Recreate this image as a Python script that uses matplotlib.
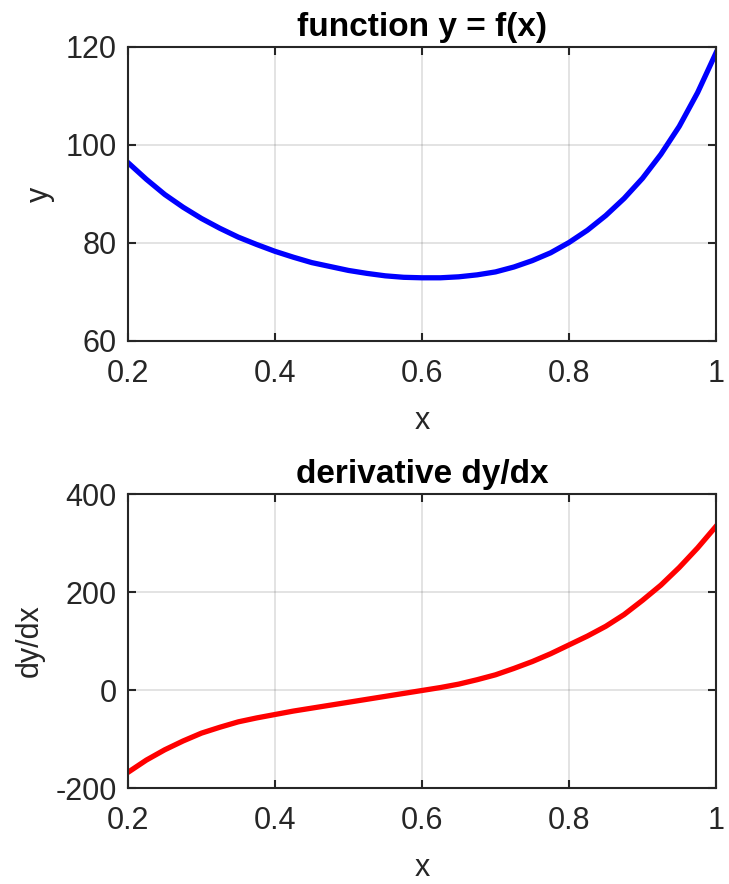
import matplotlib
matplotlib.use("Agg")
import matplotlib.pyplot as plt

plt.rcParams['font.family'] = ['Liberation Sans', 'DejaVu Sans']
plt.rcParams['axes.unicode_minus'] = False

# values
x = [0.2, 0.225, 0.25, 0.275, 0.3, 0.325, 0.35, 0.375, 0.4, 0.425, 0.45, 0.475,
     0.5, 0.525, 0.55, 0.575, 0.6, 0.625, 0.65, 0.675, 0.7, 0.725, 0.75, 0.775,
     0.8, 0.825, 0.85, 0.875, 0.9, 0.925, 0.95, 0.975, 1.0]
y = [96.4, 93.0, 89.9, 87.3, 85.0, 83.0, 81.2, 79.7, 78.3, 77.1, 76.0, 75.2,
     74.4, 73.8, 73.3, 73.0, 72.9, 72.9, 73.1, 73.5, 74.1, 75.1, 76.4, 78.0,
     80.1, 82.6, 85.6, 89.1, 93.2, 98.1, 103.8, 110.7, 118.8]
dydx = [-168, -143, -122, -104, -88, -76, -65, -57, -50, -43, -37, -31,
        -25, -19, -13, -7, -1, 5, 12, 21, 31, 44, 58, 74,
        92, 110, 130, 154, 183, 214, 250, 290, 334]

x_ticks = [0.2, 0.4, 0.6, 0.8, 1.0]
x_ticklabels = ["0.2", "0.4", "0.6", "0.8", "1"]
y_ticks = [60, 80, 100, 120]
d_ticks = [-200, 0, 200, 400]

dark = (0.15, 0.15, 0.15)

fig = plt.figure(figsize=(7.29, 8.84), dpi=100)
ax1 = fig.add_axes([128/729, 1-341/884, 588/729, 294/884])
ax2 = fig.add_axes([128/729, 1-788/884, 588/729, 294/884])

def style(ax):
    ax.set_xlim(0.2, 1.0)
    ax.set_xticks(x_ticks)
    ax.set_xticklabels(x_ticklabels)
    ax.grid(True, color=(0.15, 0.15, 0.15), alpha=0.15, linewidth=1.2)
    ax.set_axisbelow(True)
    for s in ax.spines.values():
        s.set_color(dark)
        s.set_linewidth(1.5)
    ax.tick_params(direction='in', length=6, width=1.5, colors=dark,
                   labelsize=22, top=True, right=True)
    ax.tick_params(axis='x', pad=13)
    ax.tick_params(axis='y', pad=8)

ax1.plot(x, y, color='blue', linewidth=3.8, solid_joinstyle='round')
style(ax1)
ax1.set_ylim(60, 120)
ax1.set_yticks(y_ticks)
ax1.set_title("function y = f(x)", fontsize=24, fontweight='bold', pad=8)
ax1.set_xlabel("x", fontsize=22, color=dark, labelpad=12)
ax1.set_ylabel("y", fontsize=22, color=dark, labelpad=8)

ax2.plot(x, dydx, color='red', linewidth=3.8, solid_joinstyle='round')
style(ax2)
ax2.set_ylim(-200, 400)
ax2.set_yticks(d_ticks)
ax2.set_title("derivative dy/dx", fontsize=24, fontweight='bold', pad=8)
ax2.set_xlabel("x", fontsize=22, color=dark, labelpad=12)
ax2.set_ylabel("dy/dx", fontsize=22, color=dark, labelpad=8)

fig.savefig("out.png", dpi=100)
